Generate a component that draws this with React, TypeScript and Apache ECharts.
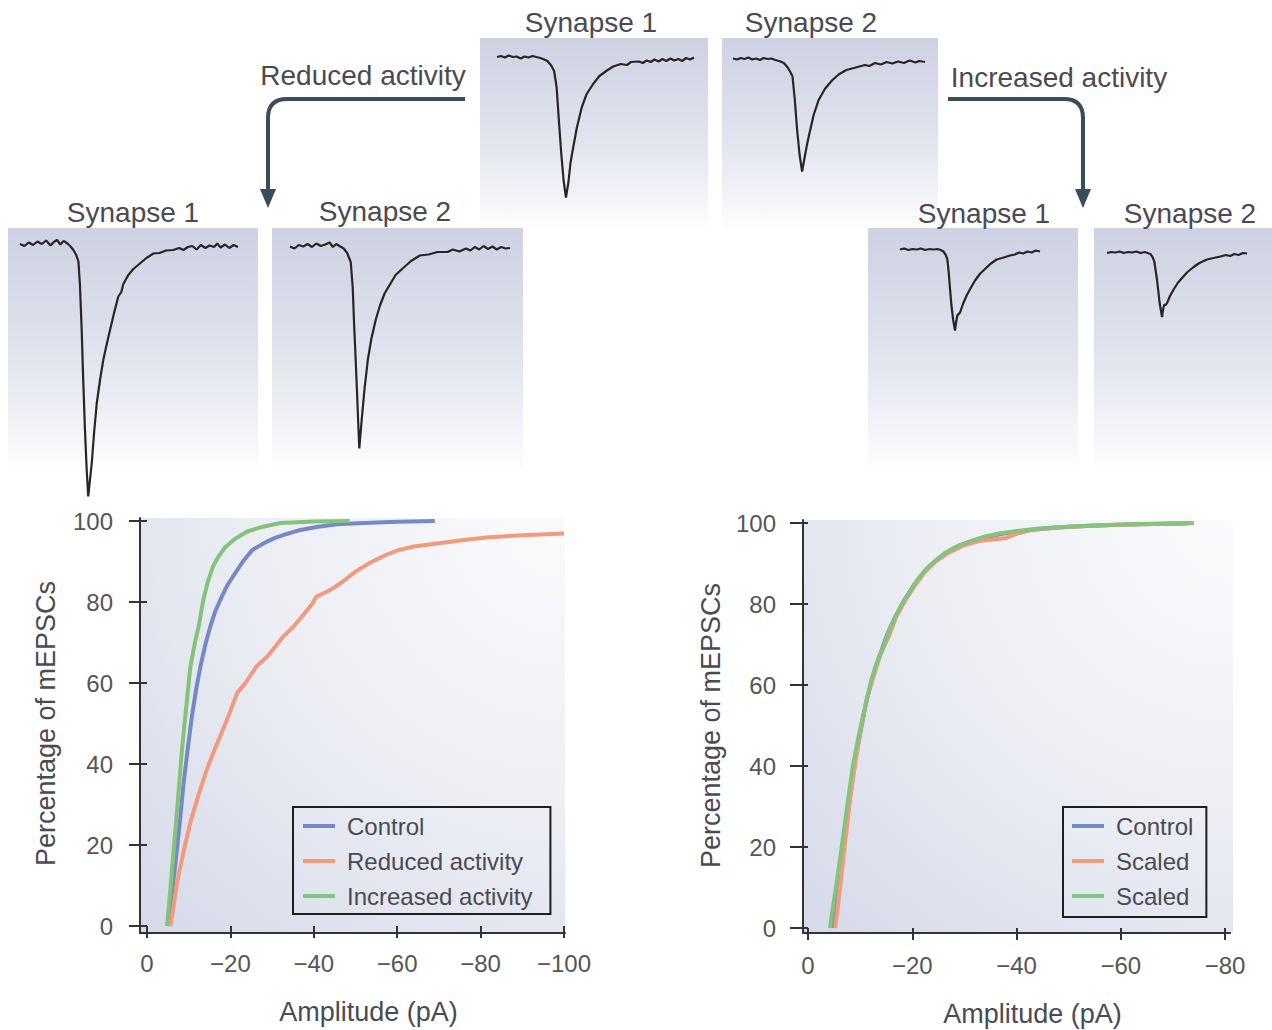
import React, { useEffect, useRef } from 'react';
import * as echarts from 'echarts';

const FONT = "'Liberation Sans', Arial, Helvetica, sans-serif";
const TEXT = '#4a4a52';
const AXIS = '#333333';
const BLUE = '#7589c4';
const ORANGE = '#f29a7c';
const GREEN = '#84c47a';
const TRACE = '#262626';

// ---- mEPSC traces: [time (0-100 % of sweep), current (pA)] ----
const traceTopSyn1 = [[0,0.2],[2,0.4],[4,0.1],[6,0.5],[8,0.2],[10,0.3],[12,-0.1],[14,0.3],[16,0.1],[18,0.4],[20,0.2],[22,0],[24,-0.3],[25.6,-0.6],[27.5,-1.5],[29,-2.6],[30.3,-6],[31.5,-13],[32.6,-19],[33.8,-24.5],[35,-27.9],[36.2,-25],[37.3,-21],[38.4,-18.5],[40.5,-14],[43,-9.9],[45.5,-7.2],[48.8,-5.2],[52,-3.6],[55.8,-2.5],[59,-1.7],[62.8,-1.2],[66,-1.4],[68,-0.8],[72,-0.7],[74,-1],[76,-0.5],[78,-0.8],[80,-0.3],[82,-0.7],[84,-0.2],[86,-0.6],[88,-0.1],[90,-0.5],[92,-0.2],[94,-0.6],[96,0],[98,-0.3],[100,0.1]];
const traceTopSyn2 = [[0,0.3],[2,0.1],[4,0.4],[6,0.2],[8,0.5],[10,0.1],[12,0.3],[14,0],[16,0.4],[18,0.2],[20,0.3],[22,0],[24,-0.2],[26.5,-0.6],[28.5,-1.5],[30,-2.5],[31,-3.3],[32.2,-8],[33.4,-14],[34.7,-19],[36,-22.3],[37.3,-19.5],[38.5,-17],[39.8,-14.7],[42,-11],[44.6,-8],[48,-5.7],[51.8,-4],[55,-2.9],[59,-2],[63,-1.6],[68.7,-1],[71,-1.2],[74,-0.6],[77,-0.9],[80,-0.4],[83,-0.7],[86,-0.3],[89,-0.6],[92,-0.1],[95,-0.5],[97,-0.2],[100,-0.4]];
const traceReducedSyn1 = [[0,0.2],[2,-0.2],[4,0.5],[6,0],[8,0.7],[10,0.2],[12,0.9],[14,-0.1],[15.5,0.6],[17,1],[18.5,0.1],[20,0.8],[21.5,0.4],[23,-0.2],[24.5,-1],[25.8,-2],[26.8,-3.3],[27.5,-8],[28.3,-17],[29,-27],[29.8,-37],[30.6,-45],[31.3,-50.3],[32.1,-47],[32.9,-43.7],[34,-37.5],[35.2,-31.7],[36.7,-27],[38.2,-23],[39.8,-19.8],[41.3,-17],[43.2,-13.5],[45.1,-10.3],[46.5,-9.4],[47.4,-7.8],[49.7,-6],[52,-4.8],[55,-3.7],[58,-2.6],[61.2,-1.7],[64,-1.6],[67,-1.1],[70.3,-1],[73,-0.6],[75,-1],[77,-0.4],[79,-0.2],[81,-0.9],[83,0],[85,-0.6],[87,-0.1],[89,-0.4],[90.5,0.3],[92,-0.5],[94,0.1],[96,-0.6],[98,0],[100,-0.4]];
const traceReducedSyn2 = [[0,0.1],[2,-0.3],[4,0.4],[6,0.1],[8,0.6],[10,0],[12,0.7],[14,0.2],[16,0.5],[18,0.9],[19.5,0],[21,0.6],[22.5,0.2],[24.4,-0.3],[26,-1.2],[27.6,-3],[28.5,-8],[29.1,-15],[29.8,-22],[30.4,-28.3],[31,-35],[31.5,-40.3],[32.5,-35],[33.9,-28.3],[35.4,-22.5],[37,-18.3],[39,-14.5],[40.9,-11.7],[43,-9.3],[45.7,-7.3],[48,-5.6],[51.2,-4.3],[55,-2.8],[59,-1.7],[63,-1.5],[67,-1],[71.7,-1],[74,-0.5],[77,-0.9],[80,-0.3],[82,-0.7],[84,0],[86,-0.5],[88,0.2],[90,-0.4],[92,0.1],[94,-0.5],[96,0],[98,-0.3],[100,-0.2]];
const traceIncreasedSyn1 = [[0,0.1],[3,0.3],[6,0],[9,0.2],[12,0.1],[15,0.3],[18,0],[21,0.2],[24,0.1],[27,0.2],[29,0],[31,-0.3],[32.5,-0.9],[33.8,-1.8],[34.8,-4.5],[35.8,-8],[36.7,-11],[38,-14],[39.3,-16.1],[40,-14.6],[41,-13],[42,-12.8],[42.9,-12.5],[45,-10.8],[47.6,-9.1],[50.5,-7.6],[53.6,-6.1],[57,-4.8],[60.7,-3.8],[64.5,-2.8],[69,-1.9],[73,-1.6],[78.6,-1.1],[82,-0.9],[85,-0.5],[88,-0.7],[91,-0.3],[94,-0.5],[97,-0.1],[100,-0.3]];
const traceIncreasedSyn2 = [[0,0],[3,0.2],[6,0.1],[9,0.3],[12,0],[15,0.2],[18,0.1],[21,0.3],[24,0],[27,0.2],[29,0],[31,-0.2],[32.5,-0.8],[33.8,-1.7],[35.7,-5.3],[37.6,-10],[39.3,-12.8],[40.2,-11],[41,-10.3],[42,-10.4],[42.9,-10],[45,-8.6],[47.6,-7.3],[50.5,-6],[53.6,-5],[57.5,-3.8],[61.9,-2.8],[66,-2],[71.4,-1.3],[76,-1],[81,-0.7],[85,-0.4],[88,-0.6],[91,-0.2],[94,-0.4],[97,0],[100,-0.1]];

// ---- cumulative distributions: [amplitude (pA), percentage of mEPSCs] ----
const leftControl = [[-5,0],[-6,8],[-7.2,19],[-8,27],[-8.8,35.5],[-9.8,44],[-10.8,52],[-11.8,58.5],[-12.8,64],[-14,69.5],[-15.2,74],[-16.4,77.8],[-17.8,81],[-19.2,84],[-20.8,86.6],[-23,90],[-25.2,92.8],[-28,94.5],[-30.4,95.7],[-33.5,96.8],[-36.8,97.8],[-41,98.6],[-45.6,99.2],[-52,99.5],[-60,99.8],[-69,100]];
const leftReduced = [[-5.6,0],[-6.4,5],[-7.2,10.7],[-8.8,18.5],[-10.4,25.6],[-12.4,32.5],[-14.4,38.8],[-16,43],[-17.6,47],[-19.6,52],[-21.6,57.5],[-23.6,60],[-26.2,64],[-28.8,66.5],[-30.8,69],[-32.6,71.4],[-35.2,74],[-37.6,77],[-39.6,79.5],[-40.6,81.3],[-44,83],[-46.9,85],[-50,87.5],[-53.3,89.6],[-57,91.5],[-60,92.7],[-64,93.7],[-70,94.5],[-76,95.3],[-82,96],[-90,96.5],[-100,96.9]];
const leftIncreased = [[-4.8,0],[-5.6,9],[-6.4,19],[-7.4,31],[-8.4,43.7],[-9.4,54],[-10.4,64],[-11.4,69.5],[-12.4,74],[-13.6,81],[-14.6,85],[-15.8,88.7],[-17,91],[-18.8,93.6],[-21,95.5],[-24,97.4],[-27.8,98.6],[-32,99.5],[-40,99.9],[-48.6,100]];
const rightControl = [[-4.8,0],[-5.6,8],[-6.6,18],[-7.8,30],[-9,41],[-10,48],[-11.2,56],[-12.5,62.5],[-13.8,67.5],[-15.2,72.5],[-16.8,77],[-18.5,81],[-20.5,85],[-22.5,88.3],[-25,91.2],[-28,93.8],[-31,95.3],[-34,96.5],[-37,97.3],[-40,97.9],[-45,98.6],[-50,99.1],[-56,99.4],[-63,99.7],[-72,99.9],[-74,100]];
const rightScaledReduced = [[-5.2,0],[-5.8,6],[-6.5,14],[-7.2,22],[-8.2,33],[-9.2,42],[-10.2,50],[-11.5,57.5],[-12.8,63],[-14,68],[-15.5,72],[-17,77],[-18.5,80.5],[-20.5,84.5],[-22.5,88],[-24.5,90.5],[-27,92.7],[-30,94.5],[-33,95.6],[-36,96],[-38,96.3],[-40,97.3],[-43,98.3],[-47,98.8],[-52,99.2],[-58,99.5],[-65,99.7],[-74,100]];
const rightScaledIncreased = [[-4.2,0],[-5,7],[-5.6,12],[-6.4,19.3],[-7.5,30],[-8.6,40],[-9.5,46],[-10.5,52],[-12.1,61],[-13.2,65.5],[-14.4,69],[-15.3,72.5],[-16.3,75.6],[-17.8,79.5],[-19.5,83],[-21,86],[-22.7,88.7],[-24.5,90.8],[-26.5,92.8],[-29,94.5],[-31.6,95.7],[-34,96.7],[-36.7,97.4],[-40,98],[-45,98.7],[-50,99.1],[-55,99.4],[-60,99.6],[-66,99.8],[-73.8,100]];

const leftLegend = ['Control', 'Reduced activity', 'Increased activity'];
const rightLegend = ['Control', 'Scaled (reduced)', 'Scaled (increased)'];

// ---- layout ----
const traceGrids = [
  { left: 497, top: 38, width: 197 },
  { left: 733, top: 40, width: 192 },
  { left: 20, top: 225, width: 218 },
  { left: 290, top: 227, width: 220 },
  { left: 900, top: 230, width: 140 },
  { left: 1107, top: 233, width: 140 },
];
const traceData = [traceTopSyn1, traceTopSyn2, traceReducedSyn1, traceReducedSyn2, traceIncreasedSyn1, traceIncreasedSyn2];
const panels = [[480, 38, 228, 190], [722, 38, 216, 190], [8, 228, 250, 242], [272, 228, 251, 242], [868, 228, 210, 238], [1094, 228, 178, 238]];
const labels: [string, number, number][] = [
  ['Synapse 1', 591, 22], ['Synapse 2', 811, 22],
  ['Synapse 1', 133, 212], ['Synapse 2', 385, 211],
  ['Synapse 1', 984, 213], ['Synapse 2', 1190, 213],
  ['Reduced activity', 363, 75], ['Increased activity', 1059, 77],
];

function buildOption() {
  const grids: any[] = [];
  const xAxes: any[] = [];
  const yAxes: any[] = [];
  const series: any[] = [];

  traceGrids.forEach((g, i) => {
    grids.push({ left: g.left, top: g.top, width: g.width, height: 300, outerBoundsMode: 'none' });
    xAxes.push({ type: 'value', gridIndex: i, min: 0, max: 100, show: false });
    yAxes.push({ type: 'value', gridIndex: i, min: -56, max: 4, show: false });
    series.push({
      type: 'line', xAxisIndex: i, yAxisIndex: i, data: traceData[i], showSymbol: false, silent: true,
      lineStyle: { color: TRACE, width: 2.2 }, itemStyle: { color: TRACE },
    });
  });

  const tickLabel = { color: '#555', fontSize: 24, fontFamily: FONT };
  const nameStyle = { color: TEXT, fontSize: 27, fontFamily: FONT };
  const fmtX = (v: number) => (v === 0 ? '0' : '\u2212' + Math.abs(v));

  const addChart = (dataGrid: any, frameGrid: any, xMin: number, yOffset: number, yNameGap: number, xNameShift: number) => {
    const gi = grids.length;
    grids.push({ ...dataGrid, outerBoundsMode: 'none' });
    grids.push({ ...frameGrid, outerBoundsMode: 'none' });
    xAxes.push({
      type: 'value', gridIndex: gi, min: xMin, max: 0, interval: 20, inverse: true, offset: 7,
      axisLine: { show: false }, splitLine: { show: false },
      axisTick: { show: true, length: 12, lineStyle: { color: AXIS, width: 2 } },
      axisLabel: { ...tickLabel, margin: 18, formatter: fmtX },
      name: 'Amplitude (pA)', nameLocation: 'middle', nameGap: 65,
      nameTextStyle: { ...nameStyle, padding: [0, 0, 0, xNameShift] },
    });
    yAxes.push({
      type: 'value', gridIndex: gi, min: 0, max: 100, interval: 20, offset: yOffset,
      axisLine: { show: false }, splitLine: { show: false },
      axisTick: { show: true, length: 18, lineStyle: { color: AXIS, width: 2 } },
      axisLabel: { ...tickLabel, margin: 27 },
      name: 'Percentage of mEPSCs', nameLocation: 'middle', nameGap: yNameGap, nameRotate: 90, nameTextStyle: nameStyle,
    });
    const frameAxis = {
      type: 'value', gridIndex: gi + 1, min: 0, max: 1,
      axisLine: { show: true, lineStyle: { color: AXIS, width: 2 } },
      axisTick: { show: false }, axisLabel: { show: false }, splitLine: { show: false },
    };
    xAxes.push({ ...frameAxis });
    yAxes.push({ ...frameAxis });
    return gi;
  };

  const gl = addChart({ left: 147, top: 521, width: 417, height: 405 }, { left: 140, top: 518, width: 425, height: 415 }, -100, 7, 81, 26);
  const gr = addChart({ left: 808, top: 523, width: 417, height: 405 }, { left: 803, top: 520, width: 427, height: 413 }, -80, 5, 79, 32);

  const cdf = (name: string, data: number[][], color: string, idx: number) => ({
    type: 'line', name, xAxisIndex: idx, yAxisIndex: idx, data, showSymbol: false, silent: true,
    lineStyle: { color, width: 4 }, itemStyle: { color },
  });
  series.push(cdf('Control', leftControl, BLUE, gl));
  series.push(cdf('Reduced activity', leftReduced, ORANGE, gl));
  series.push(cdf('Increased activity', leftIncreased, GREEN, gl));
  series.push(cdf('Control', rightControl, BLUE, gr));
  series.push(cdf('Scaled (reduced)', rightScaledReduced, ORANGE, gr));
  series.push(cdf('Scaled (increased)', rightScaledIncreased, GREEN, gr));

  const legendBase = {
    orient: 'vertical', icon: 'rect', itemWidth: 32, itemHeight: 4, itemGap: 11,
    borderColor: '#1e1e1e', borderWidth: 2, selectedMode: false,
    textStyle: { color: TEXT, fontSize: 24, fontFamily: FONT, padding: [0, 0, 0, 7] },
  };

  const graphics: any[] = [];
  panels.forEach(([x, y, w, h]) => {
    graphics.push({
      type: 'rect', z: -10, silent: true, shape: { x, y, width: w, height: h },
      style: {
        fill: new echarts.graphic.LinearGradient(0, 0, 0, 1, [
          { offset: 0, color: '#cdd1e2' }, { offset: 0.55, color: '#e2e4ee' }, { offset: 1, color: '#fdfdfe' },
        ]),
      },
    });
  });
  [[140, 518, 425, 415], [803, 520, 430, 413]].forEach(([x, y, w, h]) => {
    graphics.push({
      type: 'rect', z: -10, silent: true, shape: { x, y, width: w, height: h },
      style: {
        fill: new echarts.graphic.RadialGradient(1, 0, 1.45, [
          { offset: 0, color: '#fbfbfd' }, { offset: 0.5, color: '#eceef4' }, { offset: 1, color: '#d4d8e8' },
        ]),
      },
    });
  });
  labels.forEach(([t, x, y]) => {
    graphics.push({
      type: 'text', silent: true, z: 5,
      style: { text: t, x, y, fill: TEXT, font: `28px ${FONT}`, align: 'center', verticalAlign: 'middle', textAlign: 'center', textVerticalAlign: 'middle' },
    });
  });
  const arrowStroke = { stroke: '#3b4c59', lineWidth: 4, fill: 'none' };
  graphics.push(
    { type: 'line', silent: true, shape: { x1: 465, y1: 99, x2: 287, y2: 99 }, style: arrowStroke },
    { type: 'bezierCurve', silent: true, shape: { x1: 287, y1: 99, cpx1: 268, cpy1: 99, x2: 268, y2: 118 }, style: arrowStroke },
    { type: 'line', silent: true, shape: { x1: 268, y1: 118, x2: 268, y2: 192 }, style: arrowStroke },
    { type: 'polygon', silent: true, shape: { points: [[260, 189], [276, 189], [268, 208]] }, style: { fill: '#3b4c59' } },
    { type: 'line', silent: true, shape: { x1: 948, y1: 99, x2: 1064, y2: 99 }, style: arrowStroke },
    { type: 'bezierCurve', silent: true, shape: { x1: 1064, y1: 99, cpx1: 1083, cpy1: 99, x2: 1083, y2: 118 }, style: arrowStroke },
    { type: 'line', silent: true, shape: { x1: 1083, y1: 118, x2: 1083, y2: 192 }, style: arrowStroke },
    { type: 'polygon', silent: true, shape: { points: [[1075, 189], [1091, 189], [1083, 208]] }, style: { fill: '#3b4c59' } },
  );

  return {
    animation: false,
    backgroundColor: '#ffffff',
    textStyle: { fontFamily: FONT },
    grid: grids,
    xAxis: xAxes,
    yAxis: yAxes,
    legend: [
      { ...legendBase, data: leftLegend, left: 293, top: 807, padding: [7, 18, 6, 10] },
      { ...legendBase, data: rightLegend, left: 1063, top: 807, padding: [7, 13, 9, 9],
        formatter: (n: string) => (n.indexOf('Scaled') === 0 ? 'Scaled' : n) },
    ],
    graphic: { elements: graphics },
    series,
  };
}

export default function App() {
  const ref = useRef<HTMLDivElement>(null);
  useEffect(() => {
    document.body.style.margin = '0';
    const chart = echarts.init(ref.current!, undefined, { renderer: 'svg' });
    chart.setOption(buildOption() as any);
    return () => chart.dispose();
  }, []);
  return <div ref={ref} style={{ width: 1272, height: 1030 }} />;
}
